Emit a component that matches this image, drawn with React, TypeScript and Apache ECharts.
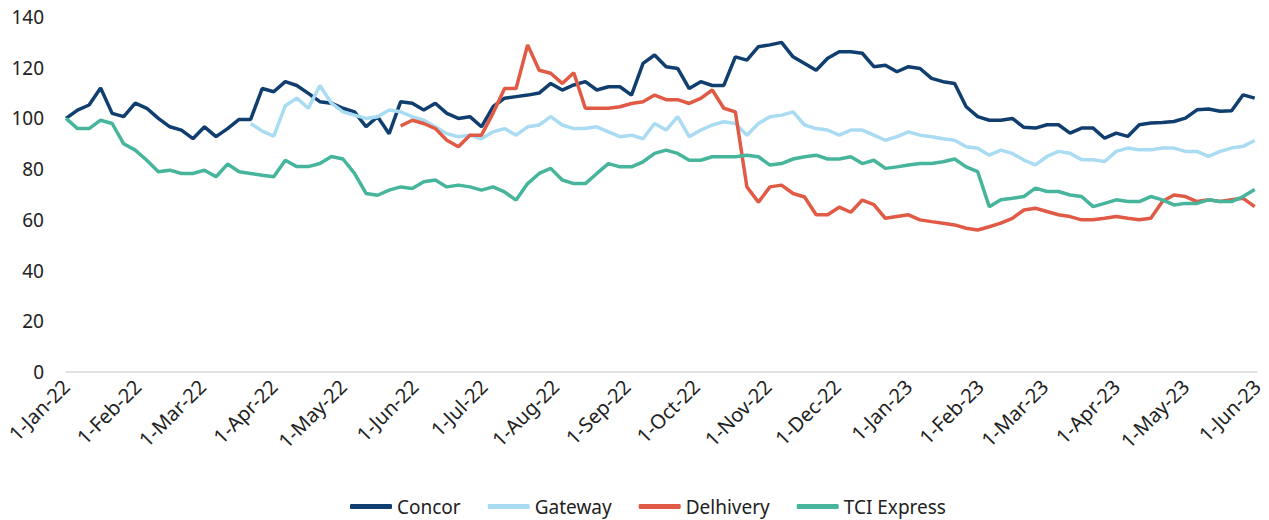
import React, { useEffect, useRef } from "react";
import * as echarts from "echarts";

// Observation dates: every 5 days from 1-Jan-22 (104 points), as day offsets
const START = new Date(2022, 0, 1);
const STEP_DAYS = 5;
const N_POINTS = 104;
const dayOffsets: number[] = Array.from({ length: N_POINTS }, (_, k) => k * STEP_DAYS);

// Month-start tick labels
const tickMonths: [number, number][] = [
  [2022, 0], [2022, 1], [2022, 2], [2022, 3], [2022, 4], [2022, 5], [2022, 6], [2022, 7], [2022, 8],
  [2022, 9], [2022, 10], [2022, 11], [2023, 0], [2023, 1], [2023, 2], [2023, 3], [2023, 4], [2023, 5],
];
const monthNames = ["Jan", "Feb", "Mar", "Apr", "May", "Jun", "Jul", "Aug", "Sep", "Oct", "Nov", "Dec"];

const seriesNames = ["Concor", "Gateway", "Delhivery", "TCI Express"];

const concor: (number | null)[] = [
  100, 103.3, 105.3, 112, 102, 100.7, 106, 104, 100, 96.7,
  95.4, 92, 96.7, 92.8, 96, 99.6, 99.6, 111.8, 110.5, 114.5,
  113, 109.9, 106.6, 106, 104, 102.6, 96.7, 100.7, 94, 106.6,
  106, 103.3, 106, 102, 100, 100.7, 96.7, 104.6, 108, 108.6,
  109.2, 110, 113.8, 111.2, 113.2, 114.5, 111.2, 112.5, 112.5, 109.2,
  121.7, 125, 120.4, 119.7, 111.8, 114.5, 113, 113, 124.3, 123,
  128.3, 129, 130, 124.3, 121.7, 119, 123.7, 126.3, 126.3, 125.7,
  120.4, 121, 118.4, 120.4, 119.7, 115.8, 114.5, 113.8, 104.6, 100.7,
  99.3, 99.3, 100, 96.5, 96.2, 97.5, 97.5, 94.2, 96.2, 96.2,
  92.2, 94.2, 92.9, 97.5, 98.2, 98.4, 98.8, 100.1, 103.4, 103.7,
  102.8, 103, 109.3, 108,
];

const gateway: (number | null)[] = [
  null, null, null, null, null, null, null, null, null, null,
  null, null, null, null, null, null, 98, 95, 93, 105,
  108, 104, 113, 106, 102.6, 101.3, 100, 100.7, 103.3, 102.6,
  100.7, 99.3, 96.7, 94, 92.8, 93.4, 92, 94.7, 96, 93.4,
  96.7, 97.4, 100.7, 97.4, 96, 96, 96.7, 94.7, 92.8, 93.4,
  92, 98, 95.4, 100.7, 92.8, 95.4, 97.4, 98.7, 98, 93.4,
  98, 100.7, 101.3, 102.6, 97.4, 96, 95.4, 93.4, 95.4, 95.4,
  93.4, 91.4, 92.8, 94.7, 93.4, 92.8, 92, 91.4, 88.8, 88.2,
  85.5, 87.5, 86.2, 83.6, 81.7, 85, 87, 86.3, 83.7, 83.7,
  83, 87, 88.3, 87.6, 87.6, 88.3, 88.3, 87, 87, 85,
  87, 88.3, 89, 91.3,
];

const delhivery: (number | null)[] = [
  null, null, null, null, null, null, null, null, null, null,
  null, null, null, null, null, null, null, null, null, null,
  null, null, null, null, null, null, null, null, null, 97,
  99.3, 98, 96, 91.4, 88.8, 93.4, 93.4, 102, 111.8, 111.8,
  129, 119, 117.8, 113.8, 118, 104, 104, 104, 104.6, 105.9,
  106.6, 109.2, 107.4, 107.4, 105.9, 107.9, 111.2, 104, 102.6, 73,
  67, 73, 73.7, 70.4, 69, 62, 62, 65, 63, 67.8,
  66, 60.6, 61.3, 62, 60, 59.3, 58.7, 58, 56.7, 56,
  57.3, 58.7, 60.6, 63.9, 64.6, 63.3, 62, 61.3, 60, 60,
  60.6, 61.3, 60.6, 60, 60.6, 67.2, 69.8, 69.2, 67.2, 67.9,
  67.2, 67.9, 68.5, 65.2,
];

const tciExpress: (number | null)[] = [
  100, 96, 96, 99.3, 98, 90, 87.5, 83.5, 79, 79.6,
  78.3, 78.3, 79.6, 77, 82, 79, 78.3, 77.6, 77, 83.5,
  81, 81, 82.2, 85, 84, 78.3, 70.4, 69.7, 71.7, 73,
  72.4, 75, 75.7, 73, 73.7, 73, 71.7, 73, 71, 67.8,
  74.3, 78.3, 80.3, 75.7, 74.3, 74.3, 78.3, 82.2, 80.9, 80.9,
  82.9, 86.2, 87.5, 86.2, 83.5, 83.5, 84.9, 84.9, 84.9, 85.5,
  84.9, 81.6, 82.2, 84, 84.9, 85.5, 84, 84, 84.9, 82.2,
  83.5, 80.3, 80.9, 81.6, 82.2, 82.2, 82.9, 84, 80.9, 79,
  65.2, 67.9, 68.5, 69.2, 72.5, 71.2, 71.2, 69.8, 69.2, 65.2,
  66.5, 67.9, 67.2, 67.2, 69.2, 67.9, 65.9, 66.5, 66.5, 67.9,
  67.2, 67.2, 69.2, 72,
];

const yTicks = [0, 20, 40, 60, 80, 100, 120, 140];

const colors = ["#0f3e6f", "#a9dcf2", "#e05a46", "#46b59c"];
const FONT = "'Noto Sans', 'Open Sans', sans-serif";
const DAY_MS = 86400000;

function dayOf(y: number, m: number, d: number) {
  return Math.round((new Date(y, m, d).getTime() - START.getTime()) / DAY_MS);
}

export default function App() {
  const ref = useRef<HTMLDivElement>(null);
  useEffect(() => {
    if (!ref.current) return;
    const chart = echarts.init(ref.current, undefined, { renderer: "svg" });
    const valueSets = [concor, gateway, delhivery, tciExpress];
    const tickDays = tickMonths.map(([y, m]) => dayOf(y, m, 1));
    chart.setOption({
      animation: false,
      color: colors,
      textStyle: { fontFamily: FONT },
      grid: { left: 66, right: 12, top: 17, bottom: 148, containLabel: false },
      legend: {
        data: seriesNames,
        left: 345,
        top: 492,
        itemWidth: 42,
        itemHeight: 5,
        itemGap: 27,
        icon: "roundRect",
        textStyle: { fontSize: 19, color: "#222", fontFamily: FONT },
      },
      xAxis: {
        type: "value",
        min: tickDays[0],
        max: tickDays[tickDays.length - 1],
        axisLine: { show: true, onZero: false, lineStyle: { color: "#d9d9d9", width: 1.5 } },
        axisTick: { show: false },
        splitLine: { show: false },
        axisLabel: {
          customValues: tickDays,
          rotate: 45,
          margin: 11,
          fontSize: 20,
          color: "#222",
          fontFamily: FONT,
          showMinLabel: true,
          showMaxLabel: true,
          hideOverlap: false,
          formatter: (v: number) => {
            const d = new Date(START.getFullYear(), START.getMonth(), START.getDate() + v);
            return `${d.getDate()}-${monthNames[d.getMonth()]}-${String(d.getFullYear()).slice(2)}`;
          },
        },
      },
      yAxis: {
        type: "value",
        min: yTicks[0],
        max: yTicks[yTicks.length - 1],
        interval: 20,
        axisLine: { show: false },
        axisTick: { show: false },
        splitLine: { show: false },
        axisLabel: { fontSize: 19, color: "#222", margin: 22, fontFamily: FONT },
      },
      series: seriesNames.map((name, i) => ({
        name,
        type: "line",
        showSymbol: false,
        symbol: "none",
        connectNulls: false,
        lineStyle: { width: 3.5, color: colors[i] },
        itemStyle: { color: colors[i] },
        data: dayOffsets.map((t, k) => [t, valueSets[i][k] == null ? "-" : valueSets[i][k]]),
      })),
    });
    return () => chart.dispose();
  }, []);
  return (
    <div
      ref={ref}
      style={{ position: "absolute", left: 0, top: 0, width: 1269, height: 520 }}
    />
  );
}
